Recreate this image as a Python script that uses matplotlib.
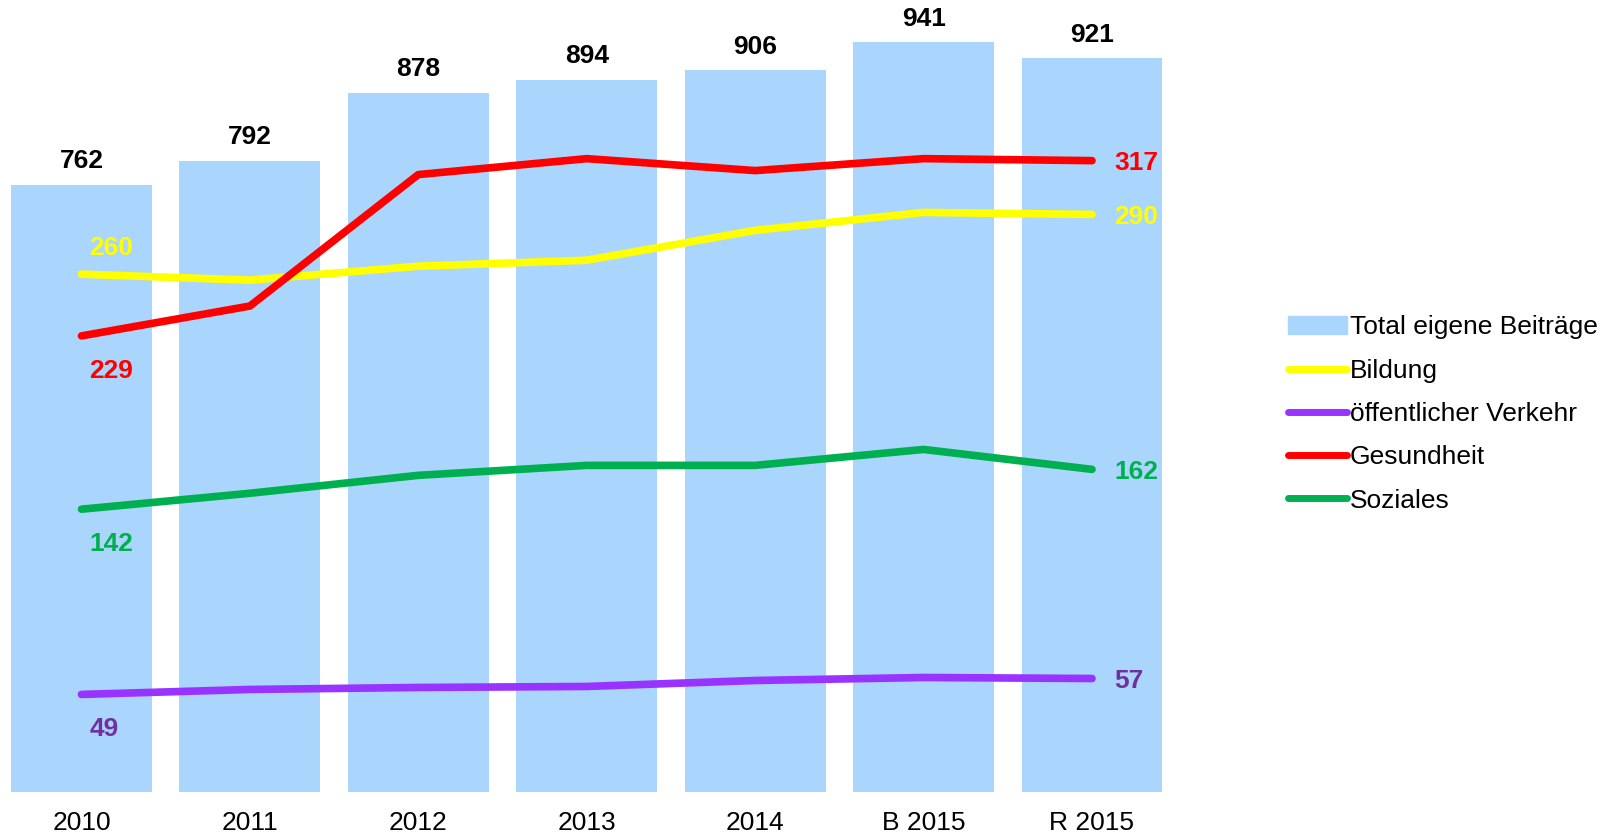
import numpy as np
from matplotlib import pyplot as plt
from matplotlib.patches import Patch
from matplotlib.lines import Line2D

plt.rcParams['font.family'] = ['Liberation Sans', 'DejaVu Sans']

years = ["2010", "2011", "2012", "2013", "2014", "B 2015", "R 2015"]
total = [762, 792, 878, 894, 906, 941, 921]
bildung = [260, 257, 264, 267, 282, 291, 290]
verkehr = [49, 51.5, 52.5, 53, 56, 57.5, 57]
gesundheit = [229, 244, 310, 318, 312, 318, 317]
soziales = [142, 150, 159, 164, 164, 172, 162]

bar_col = "#AAD6FE"
series = [
    ("Bildung", bildung, "#FFFF00", "#FFFF00"),
    ("öffentlicher Verkehr", verkehr, "#9933FF", "#7030A0"),
    ("Gesundheit", gesundheit, "#FF0000", "#FF0000"),
    ("Soziales", soziales, "#00B050", "#00B050"),
]

fig = plt.figure(figsize=(16.15, 8.36), dpi=100)
ax = fig.add_axes([-0.0017, 0.0526, 0.730, 0.953])
ax2 = ax.twinx()
x = np.arange(len(years))

ax.bar(x, total, width=0.837, color=bar_col, zorder=1)
for xi, v in zip(x, total):
    ax.annotate(str(v), (xi, v), xytext=(0, 12), textcoords="offset points",
                ha="center", va="baseline", fontsize=19, fontweight="bold")

for name, vals, col, tcol in series:
    ax2.plot(x, vals, color=col, lw=5.5, solid_capstyle="round",
             solid_joinstyle="round")
    dy = 14 if name == "Bildung" else -30
    ax2.annotate(str(vals[0]), (x[0], vals[0]), xytext=(5.8, dy),
                 textcoords="offset points", ha="left", va="baseline",
                 fontsize=19, fontweight="bold", color=tcol)
    ax2.annotate(str(vals[-1]), (x[-1], vals[-1]), xytext=(16, -6.8),
                 textcoords="offset points", ha="left", va="baseline",
                 fontsize=19, fontweight="bold", color=tcol)

ax.set_xlim(-0.5, 6.5)
ax.set_ylim(0, 1000)
ax2.set_ylim(0, 400)
ax.set_xticks(x)
ax.set_xticklabels(years, fontsize=19)
ax.tick_params(axis="x", length=0, pad=14)
ax.set_yticks([])
ax2.set_yticks([])
for a in (ax, ax2):
    for s in a.spines.values():
        s.set_visible(False)
    a.patch.set_visible(False)

handles = [Patch(color=bar_col)] + [
    Line2D([0], [0], color=c, lw=5, solid_capstyle="round") for _, _, c, _ in series]
labels = ["Total eigene Beiträge"] + [s[0] for s in series]
fig.legend(handles, labels, loc="center left", bbox_to_anchor=(1277 / 1615, 1 - 414 / 836),
           frameon=False, fontsize=19, handlelength=2.25, handletextpad=0.1,
           labelspacing=0.73, handleheight=0.7, borderaxespad=0)

fig.savefig("out.png", dpi=100)
